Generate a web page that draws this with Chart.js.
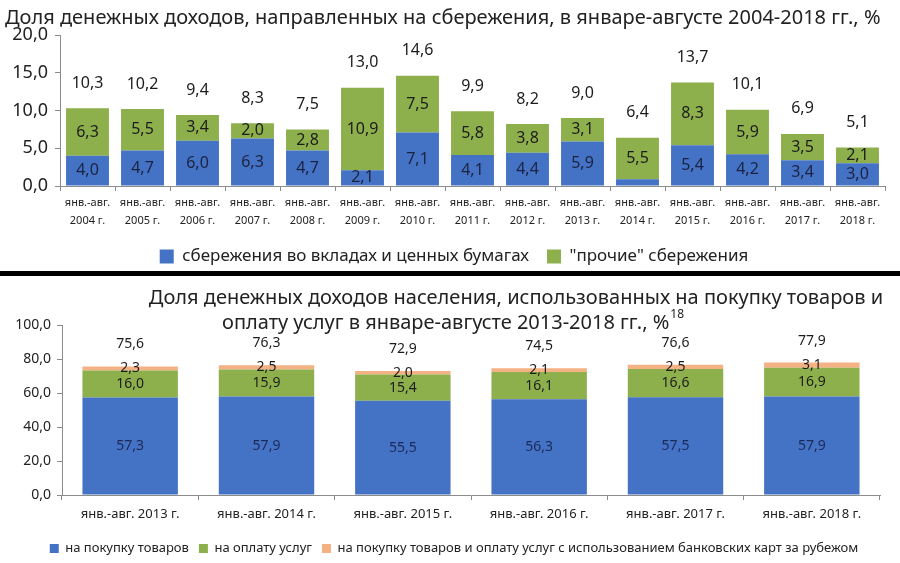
<!DOCTYPE html>
<html>
<head>
<meta charset="utf-8">
<script src="https://cdn.jsdelivr.net/npm/chart.js@4.4.1/dist/chart.umd.min.js"></script>
<style>
    body { margin: 0; background: #fff; }
    #wrap { position: relative; width: 900px; height: 563px; }
    #sep { position: absolute; left: 0; top: 271px; width: 900px; height: 5px; background: #000; }
</style>
</head>
<body>
<div id="wrap">
    <canvas id="saving" width="900" height="271" style="position:absolute;left:0;top:0"></canvas>
    <div id="sep"></div>
    <canvas id="spending" width="900" height="287" style="position:absolute;left:0;top:276px"></canvas>
</div>
<script>
// top chart: savings share, jan-aug 2004-2018
const savingYears = ['2004', '2005', '2006', '2007', '2008', '2009', '2010', '2011', '2012', '2013', '2014', '2015', '2016', '2017', '2018'];
const savingDeposits = [4.0, 4.7, 6.0, 6.3, 4.7, 2.1, 7.1, 4.1, 4.4, 5.9, 0.9, 5.4, 4.2, 3.4, 3.0];
const savingOther = [6.3, 5.5, 3.4, 2.0, 2.8, 10.9, 7.5, 5.8, 3.8, 3.1, 5.5, 8.3, 5.9, 3.5, 2.1];
const savingTotals = [10.3, 10.2, 9.4, 8.3, 7.5, 13.0, 14.6, 9.9, 8.2, 9.0, 6.4, 13.7, 10.1, 6.9, 5.1];
const savingTicks = [0, 5, 10, 15, 20];

// bottom chart: goods and services, jan-aug 2013-2018
const spendYears = ['2013', '2014', '2015', '2016', '2017', '2018'];
const spendGoods = [57.3, 57.9, 55.5, 56.3, 57.5, 57.9];
const spendServices = [16.0, 15.9, 15.4, 16.1, 16.6, 16.9];
const spendCards = [2.3, 2.5, 2.0, 2.1, 2.5, 3.1];
const spendTotals = [75.6, 76.3, 72.9, 74.5, 76.6, 77.9];
const spendTicks = [0, 20, 40, 60, 80, 100];

const FONT = '"Noto Sans", "Liberation Sans", sans-serif';
const BLUE = '#4472C4';
const GREEN = '#8DB04C';
const ORANGE = '#F4B183';

const fmt = v => Number(v).toFixed(1).replace('.', ',');

// values inside the segments + totals above the bars
const barLabels = {
    id: 'barLabels',
    afterDatasetsDraw(chart, args, opts) {
        const ctx = chart.ctx;
        const yScale = chart.scales.y;
        ctx.save();
        ctx.textAlign = 'center';
        ctx.textBaseline = 'middle';
        ctx.font = opts.size + 'px ' + FONT;
        chart.data.datasets.forEach((ds, di) => {
            const meta = chart.getDatasetMeta(di);
            meta.data.forEach((bar, i) => {
                const v = ds.data[i];
                if (v < opts.minValue) return;
                ctx.fillStyle = opts.colors[di];
                ctx.fillText(fmt(v), bar.x, (bar.y + bar.base) / 2);
            });
        });
        const last = chart.getDatasetMeta(chart.data.datasets.length - 1);
        ctx.fillStyle = opts.totalColor;
        last.data.forEach((bar, i) => {
            ctx.fillText(fmt(opts.totals[i]), bar.x, yScale.getPixelForValue(opts.totals[i]) - opts.totalOffset);
        });
        ctx.restore();
    }
};

// the legends in the picture sit a bit right of the canvas centre
const legendShift = {
    id: 'legendShift',
    afterLayout(chart, args, opts) {
        chart.legend.left += opts.dx;
        chart.legend.right += opts.dx;
    }
};

// two line title of the lower chart with superscript note
const splitTitle = {
    id: 'splitTitle',
    afterDraw(chart, args, opts) {
        const ctx = chart.ctx;
        ctx.save();
        ctx.fillStyle = '#222';
        ctx.textBaseline = 'middle';
        ctx.font = opts.size + 'px ' + FONT;
        ctx.textAlign = 'center';
        ctx.fillText(opts.lines[0], opts.x1, opts.y1);
        ctx.textAlign = 'left';
        ctx.fillText(opts.lines[1], opts.x2, opts.y2);
        const w = ctx.measureText(opts.lines[1]).width;
        ctx.font = Math.round(opts.size * 0.6) + 'px ' + FONT;
        ctx.fillText(opts.note, opts.x2 + w + 1, opts.y2 - 8);
        ctx.restore();
    }
};

new Chart(document.getElementById('saving'), {
    type: 'bar',
    data: {
        labels: savingYears.map(y => ['янв.-авг.', y + ' г.']),
        datasets: [
            {
                label: 'сбережения во вкладах и ценных бумагах',
                data: savingDeposits,
                backgroundColor: BLUE,
                barPercentage: 0.78,
                categoryPercentage: 1
            },
            {
                label: '"прочие" сбережения',
                data: savingOther,
                backgroundColor: GREEN,
                barPercentage: 0.78,
                categoryPercentage: 1
            }
        ]
    },
    options: {
        responsive: false,
        animation: false,
        layout: { padding: { left: 5, right: 15, top: 0, bottom: -4 } },
        plugins: {
            title: {
                display: true,
                text: 'Доля денежных доходов, направленных на сбережения, в январе-августе 2004-2018 гг., %',
                align: 'start',
                color: '#222',
                font: { size: 20, family: FONT, weight: 'normal' },
                padding: { top: 6, bottom: 5 }
            },
            legend: {
                position: 'bottom',
                labels: {
                    boxWidth: 14,
                    boxHeight: 14,
                    padding: 18,
                    color: '#222',
                    font: { size: 17, family: FONT }
                }
            },
            tooltip: { enabled: false },
            legendShift: { dx: 9 },
            barLabels: {
                size: 16,
                minValue: 1,
                colors: ['#1c2240', '#1c1c1c'],
                totals: savingTotals,
                totalOffset: 25,
                totalColor: '#1c1c1c'
            }
        },
        scales: {
            x: {
                stacked: true,
                afterFit: s => { s.height = 44; },
                grid: { drawOnChartArea: false, tickLength: 5, color: '#8c8c8c' },
                border: { color: '#8c8c8c' },
                ticks: { autoSkip: false, maxRotation: 0, padding: 3, color: '#222', font: { size: 11, family: FONT, lineHeight: 1.6 } }
            },
            y: {
                stacked: true,
                min: 0,
                max: 20,
                afterBuildTicks: s => { s.ticks = savingTicks.map(v => ({ value: v })); },
                afterFit: s => { s.width = 55; },
                grid: { drawOnChartArea: false, tickLength: 5, color: '#8c8c8c' },
                border: { color: '#8c8c8c' },
                ticks: { callback: fmt, color: '#222', padding: 7, font: { size: 18, family: FONT } }
            }
        }
    },
    plugins: [barLabels, legendShift]
});

new Chart(document.getElementById('spending'), {
    type: 'bar',
    data: {
        labels: spendYears.map(y => 'янв.-авг. ' + y + ' г.'),
        datasets: [
            {
                label: 'на покупку товаров',
                data: spendGoods,
                backgroundColor: BLUE,
                barPercentage: 0.7,
                categoryPercentage: 1
            },
            {
                label: 'на оплату услуг',
                data: spendServices,
                backgroundColor: GREEN,
                barPercentage: 0.7,
                categoryPercentage: 1
            },
            {
                label: 'на покупку товаров и оплату услуг с использованием банковских карт за рубежом',
                data: spendCards,
                backgroundColor: ORANGE,
                barPercentage: 0.7,
                categoryPercentage: 1
            }
        ]
    },
    options: {
        responsive: false,
        animation: false,
        layout: { padding: { left: 0, right: 20, top: 49, bottom: -2 } },
        plugins: {
            title: { display: false },
            legend: {
                position: 'bottom',
                labels: {
                    boxWidth: 9,
                    boxHeight: 9,
                    padding: 10,
                    color: '#222',
                    font: { size: 13, family: FONT }
                }
            },
            tooltip: { enabled: false },
            legendShift: { dx: 14 },
            barLabels: {
                size: 14,
                minValue: 0,
                colors: ['#1c2a5a', '#1c1c1c', '#1c1c1c'],
                totals: spendTotals,
                totalOffset: 22,
                totalColor: '#1c1c1c'
            },
            splitTitle: {
                lines: ['Доля денежных доходов населения, использованных на покупку товаров и',
                        'оплату услуг в январе-августе 2013-2018 гг., %'],
                note: '18',
                size: 20,
                x1: 516, y1: 22,
                x2: 222, y2: 47
            }
        },
        scales: {
            x: {
                stacked: true,
                afterFit: s => { s.height = 37; },
                grid: { drawOnChartArea: false, tickLength: 5, color: '#8c8c8c' },
                border: { color: '#8c8c8c' },
                ticks: { autoSkip: false, maxRotation: 0, padding: 6, color: '#222', font: { size: 13, family: FONT } }
            },
            y: {
                stacked: true,
                min: 0,
                max: 100,
                afterBuildTicks: s => { s.ticks = spendTicks.map(v => ({ value: v })); },
                afterFit: s => { s.width = 62; },
                grid: { drawOnChartArea: false, tickLength: 5, color: '#8c8c8c' },
                border: { color: '#8c8c8c' },
                ticks: { callback: fmt, color: '#222', padding: 6, font: { size: 14, family: FONT } }
            }
        }
    },
    plugins: [barLabels, legendShift, splitTitle]
});
</script>
</body>
</html>
